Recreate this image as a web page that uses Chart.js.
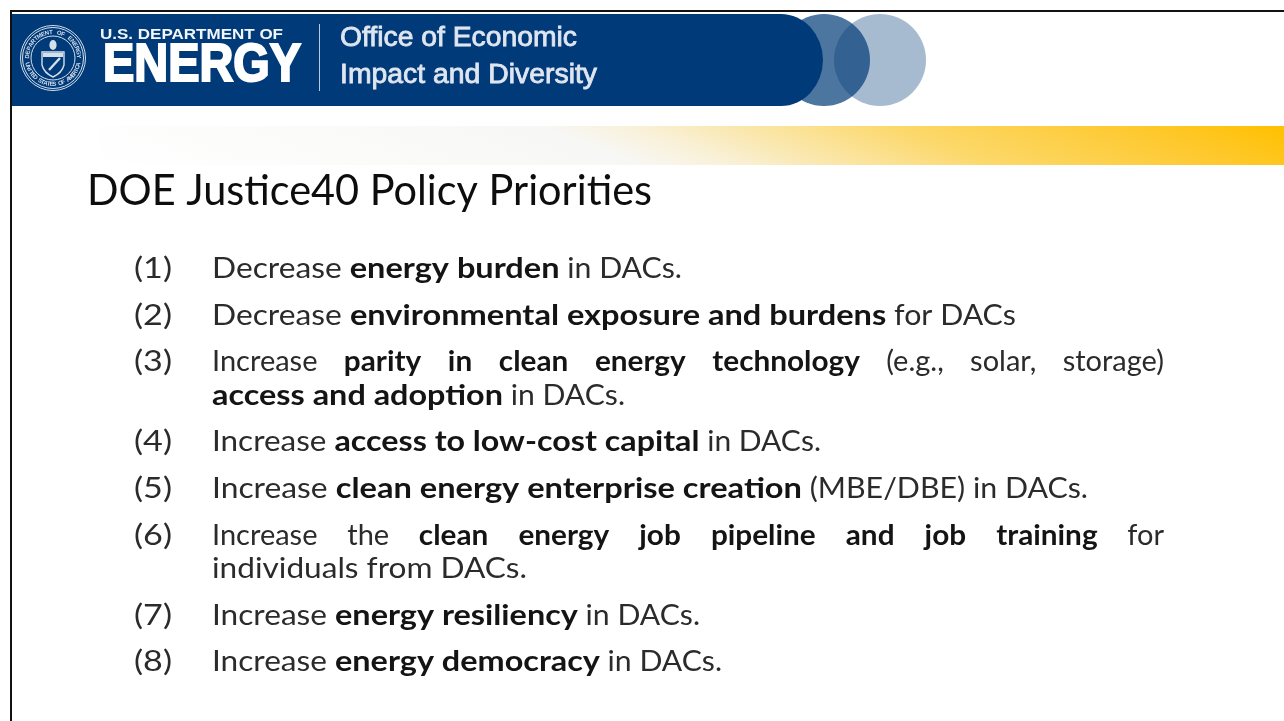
<!DOCTYPE html>
<html lang="en">
  <head>
    <meta charset="UTF-8" />
    <script src="https://cdn.jsdelivr.net/npm/chart.js@4"></script>
    <title>DOE Justice40 Policy Priorities</title>
    <style>
      html,
      body {
        margin: 0;
        padding: 0;
        background-color: rgb(255, 255, 255);
        overflow: hidden;
      }

      canvas {
        display: block;
      }
    </style>
  </head>
  <body>
    <canvas id="myChart" width="1284" height="721"></canvas>
    <script>
      const slideTitle = "DOE Justice40 Policy Priorities";
      const officeLines = ["Office of Economic", "Impact and Diversity"];
      const rowNumbers = ["(1)", "(2)", "(3)", "", "(4)", "(5)", "(6)", "", "(7)", "(8)"];
      // ** marks the bold part of a row
      const rowTexts = [
        "Decrease **energy burden** in DACs.",
        "Decrease **environmental exposure and burdens** for DACs",
        "Increase **parity in clean energy technology** (e.g., solar, storage)",
        "**access and adoption** in DACs.",
        "Increase **access to low-cost capital** in DACs.",
        "Increase **clean energy enterprise creation** (MBE/DBE) in DACs.",
        "Increase the **clean energy job pipeline and job training** for",
        "individuals from DACs.",
        "Increase **energy resiliency** in DACs.",
        "Increase **energy democracy** in DACs.",
      ];
      const circleX = [824, 880];
      const circleY = [60, 60];
      const circleR = [46, 46];

      // layout, in slide pixels
      const rowBaselines = [278, 325, 371, 405, 451, 498, 545, 578, 625, 671];
      const rowEnds = [682, 1016, 1164, 625, 821, 1088, 1164, 527, 700, 722];
      const justifiedRows = [2, 6];
      const numberX = 134;
      const textX = 212;
      const bodyFontSize = 29;
      // lato is only close to calibri: bold runs wider, the tail after it narrower
      const boldStretch = 1.025;
      const tailStretch = 0.955;

      // one line of mixed regular and bold text, fitted to end at endX
      function drawRow(ctx, text, x, y, endX, justified) {
        const parts = text.split("**");
        const fontFor = (i) => (i % 2 ? "bold " : "") + bodyFontSize + "px Lato";
        const stretchFor = (i) => (i % 2 ? boldStretch : i == 2 && !justified ? tailStretch : 1);
        const partWidth = (p, i) => {
          ctx.font = fontFor(i);
          return ctx.measureText(p).width * stretchFor(i);
        };
        ctx.wordSpacing = "0px";
        const width = parts.reduce((sum, p, i) => sum + partWidth(p, i), 0);
        let squeeze = (endX - x) / width;
        if (justified) {
          squeeze = 1;
          const gaps = parts.reduce((sum, p, i) => sum + (p.split(" ").length - 1) * stretchFor(i), 0);
          ctx.wordSpacing = (endX - x - width) / gaps + "px";
        }
        ctx.save();
        ctx.translate(x, y);
        ctx.scale(squeeze, 1);
        let pos = 0;
        parts.forEach((p, i) => {
          ctx.font = fontFor(i);
          ctx.fillStyle = i % 2 ? "#141414" : "#2b2b2b";
          ctx.save();
          ctx.translate(pos, 0);
          ctx.scale(stretchFor(i), 1);
          ctx.fillText(p, 0, 0);
          ctx.restore();
          pos += partWidth(p, i);
        });
        ctx.restore();
        ctx.wordSpacing = "0px";
      }

      function fitText(ctx, text, font, x, y, endX, strokeWidth) {
        ctx.font = font;
        const squeeze = (endX - x) / ctx.measureText(text).width;
        ctx.save();
        ctx.translate(x, y);
        ctx.scale(squeeze, 1);
        ctx.fillText(text, 0, 0);
        if (strokeWidth) {
          ctx.strokeStyle = ctx.fillStyle;
          ctx.lineWidth = strokeWidth;
          ctx.strokeText(text, 0, 0);
        }
        ctx.restore();
      }

      function ringText(ctx, text, cx, cy, r, startAngle, endAngle, flip) {
        const step = (endAngle - startAngle) / (text.length - 1);
        ctx.font = "bold 6px 'Liberation Sans'";
        ctx.textAlign = "center";
        [...text].forEach((ch, i) => {
          const a = startAngle + step * i;
          ctx.save();
          ctx.translate(cx + r * Math.cos(a), cy + r * Math.sin(a));
          ctx.rotate(flip ? a - Math.PI / 2 : a + Math.PI / 2);
          ctx.fillText(ch, 0, 2);
          ctx.restore();
        });
        ctx.textAlign = "left";
      }

      function drawSeal(ctx, cx, cy) {
        ctx.strokeStyle = "#d5dfec";
        ctx.fillStyle = "#d5dfec";
        ctx.lineWidth = 1;
        [32.5, 30.5, 22].forEach((r) => {
          ctx.beginPath();
          ctx.arc(cx, cy, r, 0, Math.PI * 2);
          ctx.stroke();
        });
        ringText(ctx, "DEPARTMENT OF ENERGY", cx, cy, 26, Math.PI * 1.02, Math.PI * 1.98, false);
        ringText(ctx, "UNITED STATES OF AMERICA", cx, cy, 26, Math.PI * 0.92, Math.PI * 0.08, true);
        // shield
        ctx.lineWidth = 1.4;
        ctx.beginPath();
        ctx.moveTo(cx - 11, cy - 6);
        ctx.lineTo(cx + 11, cy - 6);
        ctx.lineTo(cx + 11, cy + 7);
        ctx.quadraticCurveTo(cx + 9, cy + 15, cx, cy + 19);
        ctx.quadraticCurveTo(cx - 9, cy + 15, cx - 11, cy + 7);
        ctx.closePath();
        ctx.stroke();
        ctx.fillRect(cx - 10, cy - 5, 20, 4);
        ctx.lineWidth = 2.4;
        ctx.beginPath();
        ctx.moveTo(cx - 4, cy + 12);
        ctx.lineTo(cx + 7, cy);
        ctx.stroke();
        // eagle
        ctx.beginPath();
        ctx.ellipse(cx, cy - 13, 3.6, 5, 0, 0, Math.PI * 2);
        ctx.fill();
      }

      const slidePlugin = {
        id: "slide",
        beforeDatasetsDraw(chart) {
          const ctx = chart.ctx;
          ctx.save();
          // yellow band
          const band = ctx.createLinearGradient(100, 165, 269, -269);
          band.addColorStop(0, "#ffffff");
          band.addColorStop(0.42, "#f7f7f5");
          band.addColorStop(0.5, "#f9f0d5");
          band.addColorStop(0.58, "#fae6a8");
          band.addColorStop(0.7, "#fcd869");
          band.addColorStop(0.88, "#fec92f");
          band.addColorStop(1, "#ffc000");
          ctx.fillStyle = band;
          ctx.fillRect(100, 126, 1184, 39);
          ctx.restore();
        },
        afterDatasetsDraw(chart) {
          const ctx = chart.ctx;
          ctx.save();
          ctx.textBaseline = "alphabetic";

          // navy banner
          ctx.fillStyle = "#003a79";
          ctx.beginPath();
          ctx.moveTo(12, 14);
          ctx.lineTo(781, 14);
          ctx.ellipse(781, 60, 42, 46, 0, -Math.PI / 2, Math.PI / 2);
          ctx.lineTo(12, 106);
          ctx.closePath();
          ctx.fill();

          // slide frame
          ctx.fillStyle = "#111111";
          ctx.fillRect(10, 10, 1274, 2);
          ctx.fillRect(10, 10, 2, 711);

          drawSeal(ctx, 53, 58);
          ctx.fillStyle = "#f2f5f9";
          fitText(ctx, "U.S. DEPARTMENT OF", "bold 14px 'Liberation Sans'", 100, 39, 283);
          ctx.fillStyle = "#ffffff";
          fitText(ctx, "ENERGY", "bold 53px 'Liberation Sans'", 103, 81, 301, 2.2);
          ctx.fillStyle = "#b9c8dc";
          ctx.fillRect(319, 24, 1, 67);
          ctx.fillStyle = "#dfe6f0";
          fitText(ctx, officeLines[0], "27px 'Liberation Sans'", 340, 46, 577, 0.8);
          fitText(ctx, officeLines[1], "27px 'Liberation Sans'", 340, 83, 597, 0.8);

          // title and list
          ctx.fillStyle = "#0d0d0d";
          fitText(ctx, slideTitle, "42px Lato", 87, 205, 652);
          rowTexts.forEach((text, i) => {
            if (rowNumbers[i]) {
              ctx.fillStyle = "#2b2b2b";
              ctx.font = bodyFontSize + "px Lato";
              fitText(ctx, rowNumbers[i], ctx.font, numberX, rowBaselines[i], numberX + 38);
            }
            drawRow(ctx, text, textX, rowBaselines[i], rowEnds[i], justifiedRows.includes(i));
          });
          ctx.restore();
        },
      };

      // the two circles behind the banner; first dataset is painted on top
      var myChart = new Chart(document.getElementById("myChart").getContext("2d"), {
        type: "bubble",
        data: {
          datasets: [
            {
              data: [{ x: circleX[0], y: circleY[0], r: circleR[0] }],
              backgroundColor: "rgba(0, 58, 120, 0.7)",
              borderWidth: 0,
            },
            {
              data: [{ x: circleX[1], y: circleY[1], r: circleR[1] }],
              backgroundColor: "rgba(0, 58, 120, 0.35)",
              borderWidth: 0,
            },
          ],
        },
        options: {
          responsive: false,
          animation: false,
          layout: { padding: 0, autoPadding: false },
          plugins: { legend: { display: false }, tooltip: { enabled: false } },
          scales: {
            x: { type: "linear", display: false, min: 0, max: 1284 },
            y: { type: "linear", display: false, min: 0, max: 721, reverse: true },
          },
        },
        plugins: [slidePlugin],
      });
    </script>
  </body>
</html>
